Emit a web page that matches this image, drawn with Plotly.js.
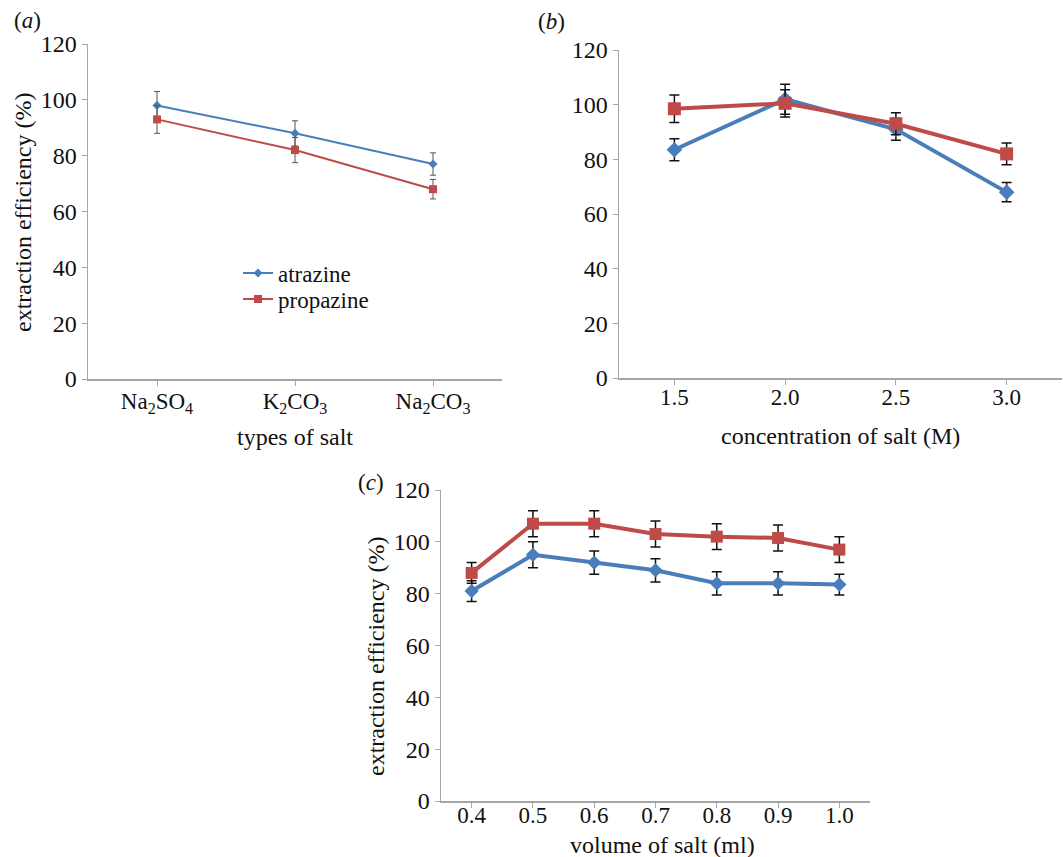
<!DOCTYPE html>
<html>
<head>
<meta charset="utf-8">
<script src="https://cdn.plot.ly/plotly-3.0.1.min.js"></script>
<style>html,body{margin:0;padding:0;background:#fff;}#chart{width:1063px;height:857px;}</style>
</head>
<body>
<div id="chart"></div>
<script>
// ---- data ----
var saltTypes = ['Na<sub>2</sub>SO<sub>4</sub>', 'K<sub>2</sub>CO<sub>3</sub>', 'Na<sub>2</sub>CO<sub>3</sub>'];
var atrazineA = [98, 88, 77];
var atrazineAErr = [5, 4.5, 4];
var propazineA = [93, 82, 68];
var propazineAErr = [5, 4.5, 3.5];

var concLabels = ['1.5', '2.0', '2.5', '3.0'];
var atrazineB = [83.5, 102, 91, 68];
var atrazineBErr = [4, 5.5, 4, 3.5];
var propazineB = [98.5, 100.5, 93, 82];
var propazineBErr = [5, 5, 4, 4];

var volLabels = ['0.4', '0.5', '0.6', '0.7', '0.8', '0.9', '1.0'];
var atrazineC = [81, 95, 92, 89, 84, 84, 83.5];
var atrazineCErr = [4, 5, 4.5, 4.5, 4.5, 4.5, 4];
var propazineC = [88, 107, 107, 103, 102, 101.5, 97];
var propazineCErr = [4, 5, 5, 5, 5, 5, 5];

var seriesNames = ['atrazine', 'propazine'];
var tickValsY = [0, 20, 40, 60, 80, 100, 120];

// ---- styles ----
var BLUE = '#4a7ebb', RED = '#be4b48';
var FONT = 'Liberation Serif, Times New Roman, serif';
var W = 1063, H = 857;
function px(x) { return x / W; }
function py(y) { return (H - y) / H; }

function trace(x, y, err, name, color, sym, msize, lw, xa, ya, showleg, ecol, ethick, ewidth, leg) {
  var t = {
    type: 'scatter', mode: 'lines+markers', x: x, y: y, name: name,
    xaxis: xa, yaxis: ya, showlegend: showleg,
    line: {color: color, width: lw},
    marker: {color: color, symbol: sym, size: msize},
    error_y: {type: 'data', array: err, visible: true, color: ecol, thickness: ethick, width: ewidth}
  };
  if (leg) t.legend = leg;
  return t;
}

var data = [
  trace(saltTypes, atrazineA, atrazineAErr, seriesNames[0], BLUE, 'diamond', 7, 2, 'x', 'y', true, '#555', 1, 3, 'legend'),
  trace(saltTypes, propazineA, propazineAErr, seriesNames[1], RED, 'square', 8, 2, 'x', 'y', true, '#555', 1, 3, 'legend2'),
  trace(concLabels, atrazineB, atrazineBErr, seriesNames[0], BLUE, 'diamond', 12, 4, 'x2', 'y2', false, '#111', 1.5, 5),
  trace(concLabels, propazineB, propazineBErr, seriesNames[1], RED, 'square', 13, 4, 'x2', 'y2', false, '#111', 1.5, 5),
  trace(volLabels, atrazineC, atrazineCErr, seriesNames[0], BLUE, 'diamond', 11, 4, 'x3', 'y3', false, '#111', 1.5, 5),
  trace(volLabels, propazineC, propazineCErr, seriesNames[1], RED, 'square', 12, 4, 'x3', 'y3', false, '#111', 1.5, 5)
];

function xAx(dom, n, anchor, standoff) {
  return {
    type: 'category', domain: dom, range: [-0.5, n - 0.5], anchor: anchor,
    showline: true, linecolor: '#a6a6a6', linewidth: 1.5,
    ticks: 'outside', ticklen: 5, tickcolor: '#a6a6a6', tickwidth: 1,
    ticklabelstandoff: standoff,
    showgrid: false, zeroline: false, fixedrange: true,
    tickfont: {family: FONT, size: 23, color: '#111'}
  };
}
function yAx(dom, anchor) {
  return {
    domain: dom, range: [0, 120], anchor: anchor, tickvals: tickValsY,
    showline: true, linecolor: '#a6a6a6', linewidth: 1.5,
    ticks: 'outside', ticklen: 5, tickcolor: '#a6a6a6', tickwidth: 1,
    showgrid: false, zeroline: false, fixedrange: true,
    tickfont: {family: FONT, size: 24, color: '#111'}
  };
}

function ann(text, x, y, size, angle) {
  return {text: text, xref: 'paper', yref: 'paper', x: px(x), y: py(y),
          xanchor: 'center', yanchor: 'middle', showarrow: false, textangle: angle || 0,
          font: {family: FONT, size: size, color: '#111'}};
}

function leg(y) {
  return {x: px(238), y: py(y), xanchor: 'left', yanchor: 'middle',
          bgcolor: 'rgba(0,0,0,0)', font: {family: FONT, size: 23, color: '#111'},
          itemwidth: 30};
}

var layout = {
  width: W, height: H,
  margin: {l: 0, r: 0, t: 0, b: 0},
  paper_bgcolor: '#fff', plot_bgcolor: '#fff',
  font: {family: FONT, color: '#111'},
  xaxis: xAx([px(88), px(502)], 3, 'y', -4),
  yaxis: yAx([py(379), py(44)], 'x'),
  xaxis2: xAx([px(619), px(1062)], 4, 'y2', -7),
  yaxis2: yAx([py(378), py(50)], 'x2'),
  xaxis3: xAx([px(441), px(870)], 7, 'y3', -12),
  yaxis3: yAx([py(801), py(490)], 'x3'),
  showlegend: true,
  legend: leg(273),
  legend2: leg(299),
  annotations: [
    ann('(<i>a</i>)', 27, 21, 23),
    ann('(<i>b</i>)', 551, 22, 23),
    ann('(<i>c</i>)', 371, 482, 23),
    ann('extraction efficiency (%)', 23, 213, 24, -90),
    ann('extraction efficiency (%)', 376, 657, 24, -90),
    ann('types of salt', 295, 437, 24),
    ann('concentration of salt (M)', 840, 436, 24),
    ann('volume of salt (ml)', 662, 845, 24)
  ]
};

Plotly.newPlot('chart', data, layout, {displayModeBar: false, staticPlot: true});
</script>
</body>
</html>
